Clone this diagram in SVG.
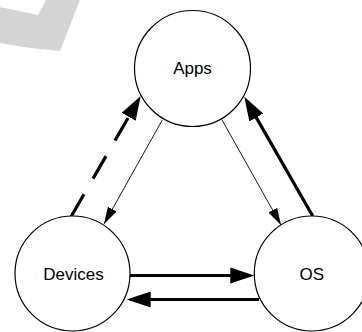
<svg xmlns="http://www.w3.org/2000/svg" width="362" height="332" viewBox="0 0 362 332">
<style>
.node circle{fill:#fff;stroke:#000;stroke-width:1.2}
.node text{font-family:"Liberation Sans",Arial,sans-serif;font-size:17px;fill:#000;text-anchor:middle}
.thick{stroke:#000;stroke-width:3.2;fill:none}
.thin{stroke:#000;stroke-width:0.9;fill:none}
</style>
<defs>
<marker id="big" markerUnits="userSpaceOnUse" markerWidth="26" markerHeight="18" viewBox="0 -9 26 18" refX="12" refY="0" orient="auto">
<path d="M0,-8 L24,0 L0,8 z" fill="#000"/>
</marker>
<marker id="small" markerUnits="userSpaceOnUse" markerWidth="18" markerHeight="12" viewBox="0 -6 18 12" refX="17" refY="0" orient="auto">
<path d="M0,-5 L17,0 L0,5 z" fill="#000"/>
</marker>
</defs>
<polygon points="0,7 38,15 46,0 80,0 60,51 30,48 0,43" fill="#d4d4d4"/>
<g id="connectors">
<line class="thick" x1="71" y1="216.7" x2="134.7" y2="106.4" stroke-dasharray="26 18" marker-end="url(#big)"/>
<line class="thin" x1="162.3" y1="120" x2="104" y2="224" marker-end="url(#small)"/>
<line class="thin" x1="221.7" y1="119.3" x2="281" y2="225" marker-end="url(#small)"/>
<line class="thick" x1="312.7" y1="216" x2="250.3" y2="107.1" marker-end="url(#big)"/>
<line class="thick" x1="130" y1="275.5" x2="242.3" y2="275.5" marker-end="url(#big)"/>
<line class="thick" x1="259" y1="299.5" x2="138.7" y2="299.5" marker-end="url(#big)"/>
</g>
<g id="apps" class="node"><circle cx="192.5" cy="68.5" r="58"/><text x="192.5" y="74.3">Apps</text></g>
<g id="devices" class="node"><circle cx="72.5" cy="273.5" r="57.5"/><text x="73.5" y="280">Devices</text></g>
<g id="os" class="node"><circle cx="311.8" cy="273.5" r="57.5"/><text x="311.8" y="280">OS</text></g>
</svg>
